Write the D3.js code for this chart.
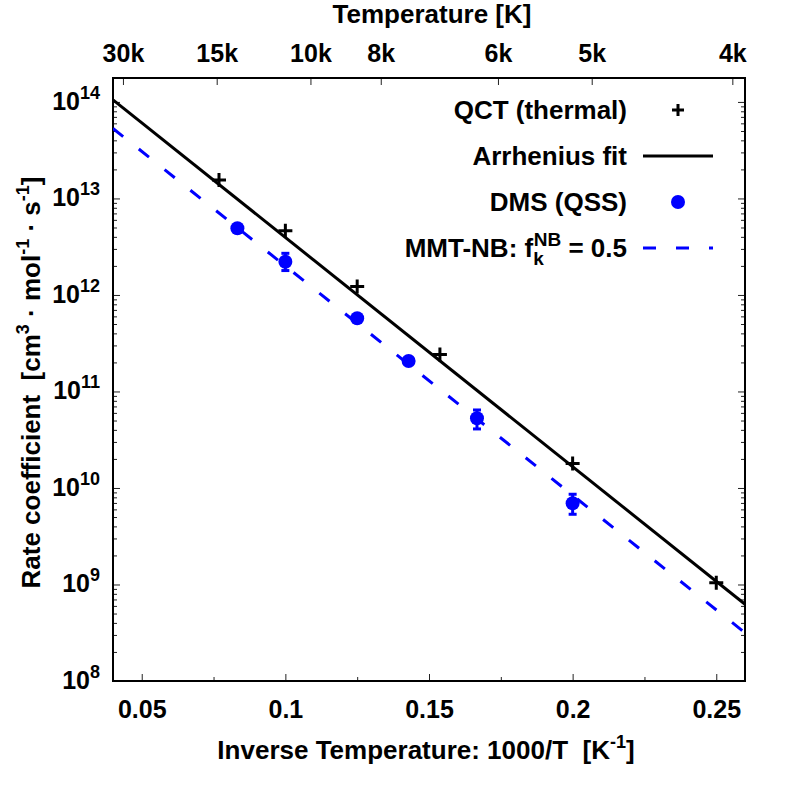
<!DOCTYPE html>
<html>
<head>
<meta charset="utf-8">
<script src="https://cdn.jsdelivr.net/npm/d3@7"></script>
<style>
  body { margin: 0; background: #fff; }
  svg { font-family: "Liberation Sans", Arial, sans-serif; font-weight: bold; }
  text { white-space: pre; }
</style>
</head>
<body>
<div id="chart"></div>
<script>
// data
const qctInvT = [0.0769, 0.1, 0.125, 0.1538, 0.2, 0.25];
const qctRate = [1.556e13, 4.64e12, 1.22e12, 2.42e11, 1.79e10, 1.04e9];

const fitInvT = [0.04, 0.26];
const fitRate = [1.05e14, 6.24e8];

const dmsInvT = [0.0833, 0.1, 0.125, 0.1429, 0.1667, 0.2];
const dmsRate = [4.91e12, 2.21e12, 5.74e11, 2.07e11, 5.28e10, 6.94e9];
const dmsLow  = [4.91e12, 1.79e12, 5.74e11, 2.07e11, 4.09e10, 5.34e9];
const dmsHigh = [4.91e12, 2.70e12, 5.74e11, 2.07e11, 6.43e10, 8.61e9];

const mmtInvT = [0.04, 0.26];
const mmtRate = [5.31e13, 3.16e8];

const xTicks = [0.05, 0.1, 0.15, 0.2, 0.25];
const xMinorTicks = [0.075, 0.125, 0.175, 0.225];
const tempTicks = [30000, 15000, 10000, 8000, 6000, 5000, 4000];
const tempLabels = ["30k", "15k", "10k", "8k", "6k", "5k", "4k"];
const yExps = [8, 9, 10, 11, 12, 13, 14];

// ----------------------------------------------------------

const width = 793;
const height = 793;
const margin = { top: 78, right: 48, left: 113, bottom: 112 };
const w = width - margin.left - margin.right;
const h = height - margin.top - margin.bottom;

const svg = d3.select("div#chart").append("svg").attr("width", width).attr("height", height);
const g = svg.append("g").attr("transform", `translate(${margin.left}, ${margin.top})`);

svg.append("defs").append("clipPath").attr("id", "clip")
  .append("rect").attr("width", w).attr("height", h);

const x = d3.scaleLinear().domain([0.04, 0.26]).range([0, w]);
const x2 = d3.scaleLinear().domain([0.0298, 0.2545]).range([0, w]);
const y = d3.scaleLog().domain([1e8, 1.77e14]).range([h, 0]);

const yMajors = yExps.map(e => Math.pow(10, e));
const yMinors = [];
yExps.forEach(e => { for (let m = 2; m <= 9; m++) { const v = m * Math.pow(10, e); if (v <= y.domain()[1]) yMinors.push(v); } });

function styleAxis(sel) {
  sel.select(".domain").remove();
  sel.selectAll(".tick line").attr("stroke", "#222").attr("stroke-width", 1);
  sel.selectAll("text").attr("font-size", 25).attr("fill", "#000");
}

// bottom axis
const xAxisG = g.append("g").attr("transform", `translate(0, ${h})`)
  .call(d3.axisBottom(x).tickValues(xTicks).tickSizeInner(-7).tickSizeOuter(0).tickPadding(19).tickFormat(d3.format("")));
styleAxis(xAxisG);
const xMinorG = g.append("g").attr("transform", `translate(0, ${h})`)
  .call(d3.axisBottom(x).tickValues(xMinorTicks).tickSizeInner(-4).tickSizeOuter(0).tickFormat(""));
styleAxis(xMinorG);

// top axis (temperature)
const topG = g.append("g")
  .call(d3.axisTop(x2).tickValues(tempTicks.map(t => 1000 / t)).tickSizeInner(-7).tickSizeOuter(0).tickPadding(16)
    .tickFormat((d, i) => tempLabels[i]));
styleAxis(topG);

// left axis
const yAxisG = g.append("g")
  .call(d3.axisLeft(y).tickValues(yMajors).tickSizeInner(-7).tickSizeOuter(0).tickFormat(""));
styleAxis(yAxisG);
yAxisG.selectAll(".tick text").remove();
yAxisG.selectAll(".tick").append("text")
  .attr("x", -13).attr("dy", "0.3em").attr("text-anchor", "end").attr("font-size", 25).attr("fill", "#000")
  .each(function(d) {
    const t = d3.select(this);
    t.append("tspan").text("10");
    t.append("tspan").attr("font-size", 18).attr("dy", -11).text(Math.round(Math.log10(d)));
  });
const yMinorG = g.append("g")
  .call(d3.axisLeft(y).tickValues(yMinors).tickSizeInner(-4).tickSizeOuter(0).tickFormat(""));
styleAxis(yMinorG);

// right axis (mirror)
const rightG = g.append("g").attr("transform", `translate(${w}, 0)`)
  .call(d3.axisRight(y).tickValues(yMajors).tickSizeInner(-7).tickSizeOuter(0).tickFormat(""));
styleAxis(rightG);
const rightMinorG = g.append("g").attr("transform", `translate(${w}, 0)`)
  .call(d3.axisRight(y).tickValues(yMinors).tickSizeInner(-4).tickSizeOuter(0).tickFormat(""));
styleAxis(rightMinorG);

// frame
g.append("rect").attr("width", w).attr("height", h).attr("fill", "none").attr("stroke", "#000").attr("stroke-width", 2);

// lines
const line = d3.line().x(d => x(d[0])).y(d => y(d[1]));
const plot = g.append("g").attr("clip-path", "url(#clip)");

plot.append("path")
  .datum(mmtInvT.map((v, i) => [v, mmtRate[i]]))
  .attr("d", line).attr("fill", "none").attr("stroke", "#0000ff").attr("stroke-width", 3)
  .attr("stroke-dasharray", "13,20");

plot.append("path")
  .datum(fitInvT.map((v, i) => [v, fitRate[i]]))
  .attr("d", line).attr("fill", "none").attr("stroke", "#000").attr("stroke-width", 3);

// DMS points with error bars
const dms = dmsInvT.map((v, i) => ({ x: v, k: dmsRate[i], lo: dmsLow[i], hi: dmsHigh[i] }));
const eb = plot.selectAll(".eb").data(dms.filter(d => d.hi > d.lo)).enter().append("g").attr("class", "eb")
  .attr("stroke", "#0000ff").attr("stroke-width", 3);
eb.append("line").attr("x1", d => x(d.x)).attr("x2", d => x(d.x)).attr("y1", d => y(d.lo)).attr("y2", d => y(d.hi));
eb.append("line").attr("x1", d => x(d.x) - 4).attr("x2", d => x(d.x) + 4).attr("y1", d => y(d.lo)).attr("y2", d => y(d.lo));
eb.append("line").attr("x1", d => x(d.x) - 4).attr("x2", d => x(d.x) + 4).attr("y1", d => y(d.hi)).attr("y2", d => y(d.hi));

plot.selectAll(".dms").data(dms).enter().append("circle").attr("class", "dms")
  .attr("cx", d => x(d.x)).attr("cy", d => y(d.k)).attr("r", 7).attr("fill", "#0000ff");

// QCT points
const plus = (sel, s) => sel.attr("d", `M${-s},0H${s}M0,${-s}V${s}`).attr("stroke", "#000").attr("stroke-width", 3).attr("fill", "none");
plot.selectAll(".qct").data(qctInvT.map((v, i) => [v, qctRate[i]])).enter().append("path").attr("class", "qct")
  .attr("transform", d => `translate(${x(d[0])}, ${y(d[1])})`)
  .call(plus, 7);

// legend
const legX = 627 - margin.left;
const legS0 = 643 - margin.left, legS1 = 713 - margin.left;
const leg = g.append("g").attr("font-size", 26).attr("text-anchor", "end");
const rowY = [110, 156, 202, 248].map(v => v - margin.top);

leg.append("text").attr("x", legX).attr("y", rowY[0]).attr("dy", "0.35em").text("QCT (thermal)");
leg.append("path").attr("transform", `translate(${(legS0 + legS1) / 2}, ${rowY[0]})`).call(plus, 6);

leg.append("text").attr("x", legX).attr("y", rowY[1]).attr("dy", "0.35em").text("Arrhenius fit");
leg.append("line").attr("x1", legS0).attr("x2", legS1).attr("y1", rowY[1]).attr("y2", rowY[1]).attr("stroke", "#000").attr("stroke-width", 3);

leg.append("text").attr("x", legX).attr("y", rowY[2]).attr("dy", "0.35em").text("DMS (QSS)");
leg.append("circle").attr("cx", (legS0 + legS1) / 2).attr("cy", rowY[2]).attr("r", 7).attr("fill", "#0000ff");

const mt = leg.append("text").attr("x", legX).attr("y", rowY[3]).attr("dy", "0.35em");
mt.append("tspan").text("MMT-NB: f");
mt.append("tspan").attr("font-size", 19).attr("dy", 8).text("k");
mt.append("tspan").attr("font-size", 19).attr("dx", -10).attr("dy", -19).text("NB");
mt.append("tspan").attr("dy", 11).text(" = 0.5");
leg.append("line").attr("x1", legS0).attr("x2", legS1).attr("y1", rowY[3]).attr("y2", rowY[3])
  .attr("stroke", "#0000ff").attr("stroke-width", 3).attr("stroke-dasharray", "13,20");

// axis titles
const xt = svg.append("text").attr("x", 426).attr("y", 759).attr("text-anchor", "middle").attr("font-size", 26);
xt.append("tspan").text("Inverse Temperature: 1000/T  [K");
xt.append("tspan").attr("font-size", 18).attr("dy", -11).text("-1");
xt.append("tspan").attr("dy", 11).text("]");

svg.append("text").attr("x", margin.left + w / 2 + 3).attr("y", 23).attr("text-anchor", "middle").attr("font-size", 26).text("Temperature [K]");

const yt = svg.append("text").attr("transform", `translate(40, ${margin.top + h / 2 + 3}) rotate(-90)`)
  .attr("text-anchor", "middle").attr("font-size", 26);
yt.append("tspan").text("Rate coefficient  [cm");
yt.append("tspan").attr("font-size", 18).attr("dy", -11).text("3");
yt.append("tspan").attr("dy", 11).text(" · mol");
yt.append("tspan").attr("font-size", 18).attr("dy", -11).text("-1");
yt.append("tspan").attr("dy", 11).text(" · s");
yt.append("tspan").attr("font-size", 18).attr("dy", -11).text("-1");
yt.append("tspan").attr("dy", 11).text("]");
</script>
</body>
</html>
